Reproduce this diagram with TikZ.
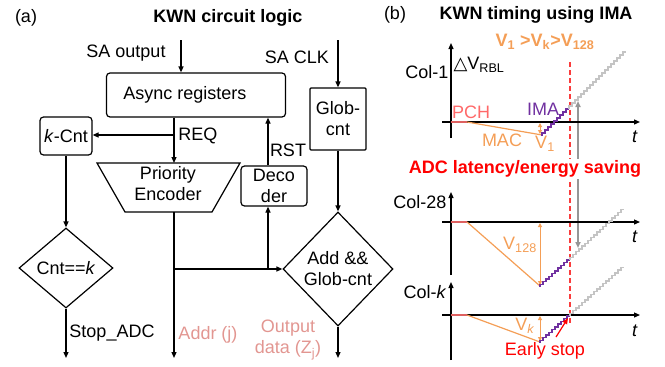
\documentclass[tikz,border=0pt]{standalone}
\usepackage{fontspec}
\setmainfont{Liberation Sans}
\newfontfamily\symfont{DejaVu Sans}
\usetikzlibrary{arrows.meta,shapes.geometric}
\definecolor{pinktxt}{RGB}{226,150,145}
\definecolor{orng}{RGB}{244,158,86}
\definecolor{pchline}{RGB}{222,96,96}
\definecolor{pchtxt}{RGB}{255,105,105}
\definecolor{purp}{RGB}{112,48,160}
\definecolor{redtxt}{RGB}{255,0,0}
\definecolor{dashred}{RGB}{250,60,60}
\definecolor{lgray}{RGB}{196,196,196}
\definecolor{dgray}{RGB}{150,150,150}
\begin{document}
\begin{tikzpicture}[x=1pt,y=-1pt,
  every node/.style={font=\fontsize{18}{21}\selectfont, inner sep=0pt},
  ttl/.style={font=\fontsize{18}{21}\selectfont\bfseries},
  ln/.style={line width=1.2pt},
  arr/.style={line width=1.2pt,-{Triangle[length=6pt,width=5pt]}},
  box/.style={draw,line width=1.2pt,rounded corners=3.5pt},
  sqbox/.style={draw,line width=1.2pt,rounded corners=1pt},
  dia/.style={draw,diamond,line width=1.2pt,align=center,inner sep=0pt},
  axis/.style={line width=1.2pt,-{Triangle[length=6pt,width=5pt]}},
  stair/.style={line width=1.4pt,line join=miter},
  dbl/.style={line width=1pt,orng,{Triangle[length=4pt,width=4pt]}-{Triangle[length=4pt,width=4pt]}},
]
\useasboundingbox (0,0) rectangle (665,367);

% ---------------- (a) ----------------
\node (a) at (26,18) {(a)};
\node[ttl] (ttla) at (228,18) {KWN circuit logic};

\node (saoutl) at (126,53) {SA output};
\coordinate (saout) at (181,40);
\node[box, minimum width=179pt, minimum height=44pt] (async) at (196,95) {};
\node (asynct) at (185,95) {Async registers};
\draw[arr] (saout) -- (saout |- async.north);

\node (saclkl) at (297,57) {SA CLK};
\coordinate (saclk) at (338,40);
\node[sqbox, minimum width=56pt, minimum height=62pt, align=center] (glob) at (338,119) {Glob-\\cnt};
\draw[arr] (saclk) -- (glob.north);

\node[box, minimum width=52pt, minimum height=38pt] (kcnt) at (66,136) {\textit{k}-Cnt};

\coordinate (xreq) at (174,0);
\coordinate (enctop) at (174,163);
\coordinate (reqbr) at (174,135);
\draw[arr] (async.south -| xreq) -- (enctop);
\draw[arr] (reqbr) -- (kcnt.east |- reqbr);
\node (reql) at (198,136) {REQ};

\draw[ln] (97,163) -- (240,163) -- (212,212) -- (125,212) -- cycle;
\node[align=center] (enc) at (168,184) {Priority\\Encoder};
\coordinate (encbot) at (174,212);

\node[box, minimum width=66pt, minimum height=40pt, align=center] (dec) at (274,186) {Deco\\der};
\coordinate (xrst) at (268,0);
\draw[arr] (dec.north -| xrst) -- (async.south -| xrst);
\node (rstl) at (288,150) {RST};

\node[dia, minimum width=110pt, minimum height=114pt] (add) at (338,269) {Add \&\&\\Glob-cnt};
\draw[arr] (glob.south) -- (add.north);

\coordinate (jn) at (174,269);
\coordinate (addrend) at (174,358);
\draw[arr] (encbot) -- (addrend);
\draw[arr] (jn) -- (add.west);
\draw[arr] (jn -| xrst) -- (dec.south -| xrst);
\node[text=pinktxt] (addr) at (208,335) {Addr (j)};

\coordinate (outend) at (338,358);
\draw[arr] (add.south) -- (outend);
\node[text=pinktxt, align=center] (outl) at (288,340) {Output\\data (Z\textsubscript{j})};

\node[dia, minimum width=94pt, minimum height=80pt] (cnt) at (66,268) {Cnt==\textit{k}};
\draw[arr] (kcnt.south) -- (cnt.north);
\coordinate (stopend) at (66,358);
\draw[arr] (cnt.south) -- (stopend);
\node (stopl) at (112,333) {Stop\_ADC};

% ---------------- (b) ----------------
\node (b) at (395,15) {(b)};
\node[ttl] (ttlb) at (536,15) {KWN timing using IMA};
\node[ttl, text=orng] (vrel) at (545,42) {V\textsubscript{1} >V\textsubscript{k}>V\textsubscript{128}};

% dashed line and gray arrow (behind the saving text)
\draw[dashred, line width=1.1pt, dash pattern=on 5pt off 3pt] (570,62) -- (570,323);
\draw[dgray, line width=1.6pt, {Triangle[length=6pt,width=5pt]}-{Triangle[length=6pt,width=5pt]}] (578,101) -- (578,248);

% Col-1
\draw[axis] (451,138) -- (451,43);
\draw[axis] (442,122) -- (640,122);
\node (c1) at (427,72) {Col-1};
\node (dv) at (479,65) {{\symfont △}V\textsubscript{RBL}};
\node (t1) at (635,137) {\textit{t}};
\draw[pchline, line width=1.6pt] (451,122) -- (467,122);
\node[text=pchtxt] (pch) at (471,112) {PCH};
\draw[orng, line width=1.2pt] (467,122) -- (542,135);
\node[text=orng] (mac) at (502,140) {MAC};
\draw[dbl] (540,123) -- (540,134);
\node[text=orng] (v1) at (545,144) {V\textsubscript{1}};
\draw[stair, purp] (542,136) foreach \i in {1,...,9} { -- ++(0,-3) -- ++(3,0) };
\draw[stair, lgray] (569,109) foreach \i in {1,...,19} { -- ++(0,-3) -- ++(3,0) };
\node[text=purp] (ima) at (543,109) {IMA};

% saving text
\node[font=\fontsize{18}{21}\selectfont\bfseries, text=redtxt, fill=white, inner sep=1.5pt] (save) at (525,169) {ADC latency/energy saving};

% Col-28
\draw[axis] (451,275) -- (451,192);
\draw[axis] (442,222) -- (640,222);
\node (c28) at (420,202) {Col-28};
\node (t2) at (635,237) {\textit{t}};
\draw[pchline, line width=1.6pt] (451,222) -- (467,222);
\draw[orng, line width=1.2pt] (467,222) -- (540,286);
\draw[dbl] (540,223) -- (540,285);
\node[text=orng] (v128) at (520,245) {V\textsubscript{128}};
\draw[stair, purp] (540,287) foreach \i in {1,...,10} { -- ++(0,-2.7) -- ++(3,0) };
\draw[stair, lgray] (570,260) foreach \i in {1,...,18} { -- ++(0,-2.8) -- ++(3,0) };

% Col-k
\draw[axis] (451,360) -- (451,282);
\draw[axis] (442,315) -- (640,315);
\node (ck) at (425,292) {Col-\textit{k}};
\node (t3) at (635,331) {\textit{t}};
\draw[pchline, line width=1.6pt] (451,315) -- (467,315);
\draw[orng, line width=1.2pt] (467,315) -- (540,342);
\draw[dbl] (540,316) -- (540,341);
\node[text=orng] (vk) at (525,326) {V\textsubscript{\textit{k}}};
\draw[stair, purp] (540,343) foreach \i in {1,...,10} { -- ++(0,-2.7) -- ++(3,0) };
\draw[stair, lgray] (570,316) foreach \i in {1,...,18} { -- ++(0,-2.7) -- ++(3,0) };

\node[text=redtxt] (early) at (545,351) {Early stop};
\coordinate (stoppt) at (568,318);
\draw[redtxt, line width=1.2pt, -{Triangle[length=6pt,width=5pt]}] (556,337) -- (stoppt);
\end{tikzpicture}
\end{document}
